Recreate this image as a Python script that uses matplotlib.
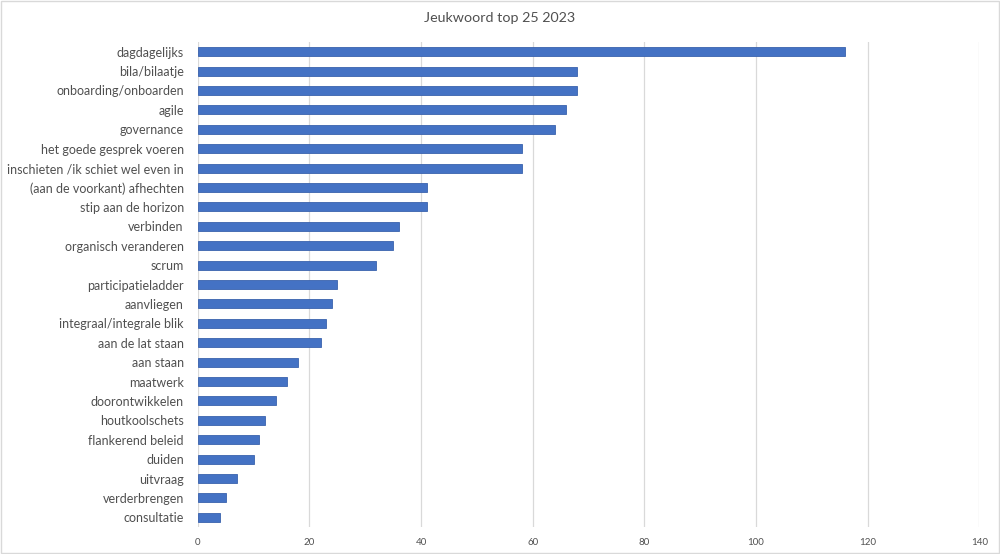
import matplotlib
matplotlib.use("Agg")
import matplotlib.pyplot as plt
from matplotlib.patches import Rectangle

categories = [
    "dagdagelijks", "bila/bilaatje", "onboarding/onboarden", "agile", "governance",
    "het goede gesprek voeren", "inschieten /ik schiet wel even in",
    "(aan de voorkant) afhechten", "stip aan de horizon", "verbinden",
    "organisch veranderen", "scrum", "participatieladder", "aanvliegen",
    "integraal/integrale blik", "aan de lat staan", "aan staan", "maatwerk",
    "doorontwikkelen", "houtkoolschets", "flankerend beleid", "duiden",
    "uitvraag", "verderbrengen", "consultatie",
]
values = [116, 68, 68, 66, 64, 58, 58, 41, 41, 36, 35, 32, 25, 24, 23, 22,
          18, 16, 14, 12, 11, 10, 7, 5, 4]
xticks = [0, 20, 40, 60, 80, 100, 120, 140]
title = "Jeukwoord top 25 2023"

plt.rcParams['font.family'] = ['Lato', 'DejaVu Sans']
text_color = "#505050"

fig = plt.figure(figsize=(10, 5.54), dpi=100)
fig.patches.append(Rectangle((0.001, 0.001), 0.998, 0.997, transform=fig.transFigure,
                             fill=False, edgecolor="#d9d9d9", linewidth=1.0))
ax = fig.add_axes([0.1977, 0.0487, 0.7816, 0.8755])

y = list(range(len(categories)))
ax.barh(y, values, height=0.47, color="#4472C4", edgecolor="#3A62AD", linewidth=0.6, zorder=3)
ax.set_ylim(len(categories) - 0.5, -0.5)
ax.set_yticks(y)
ax.set_yticklabels(categories, fontsize=9, color=text_color)
ax.set_xlim(0, 140)
ax.set_xticks(xticks)
ax.set_xticklabels([str(t) for t in xticks], fontsize=7, color=text_color)
ax.grid(axis="x", color="#d9d9d9", linewidth=0.9, zorder=0)
for s in ax.spines.values():
    s.set_visible(False)
ax.tick_params(axis="both", length=0)
ax.tick_params(axis="y", pad=10)
ax.tick_params(axis="x", pad=8)
fig.text(0.5, 0.967, title, ha="center", va="center", fontsize=10.3, color=text_color)

fig.savefig("out.png", dpi=100)
